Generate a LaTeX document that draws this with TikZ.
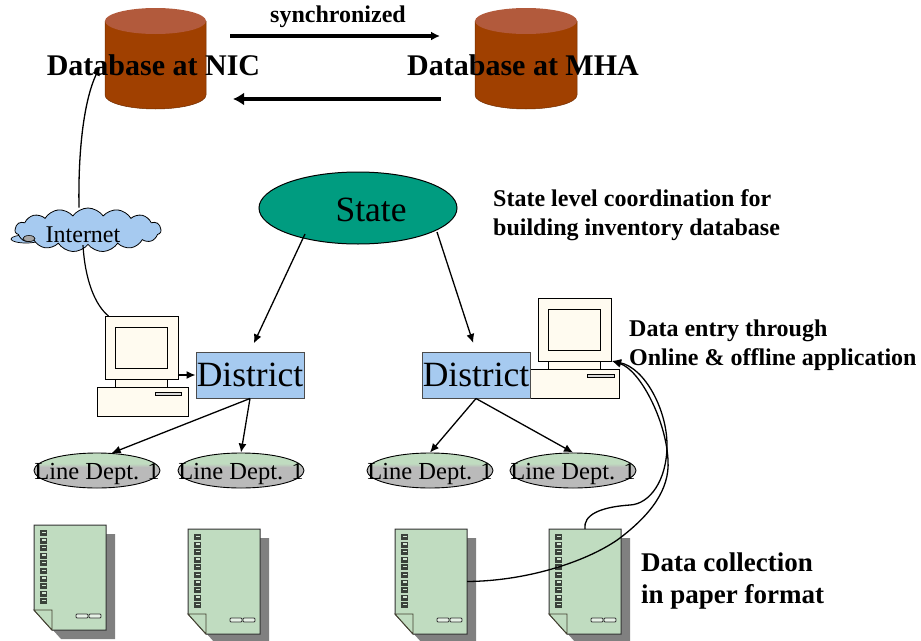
\documentclass[tikz,border=0pt]{standalone}
\usepackage{fontspec}
\setmainfont{Liberation Serif}
\usetikzlibrary{shapes.geometric,shapes.symbols,arrows.meta}
\definecolor{dbbody}{HTML}{A04000}
\definecolor{dbtop}{HTML}{B25A3C}
\definecolor{teal}{HTML}{009C80}
\definecolor{boxblue}{HTML}{A6CAF0}
\definecolor{cream}{HTML}{FFFBF0}
\definecolor{papergreen}{HTML}{C0DCC0}
\definecolor{shadowgray}{HTML}{808080}
\pgfdeclareverticalshading{linedept}{100bp}{color(0bp)=(black!27); color(55bp)=(black!27); color(60bp)=(papergreen); color(100bp)=(papergreen)}
\tikzset{
  x=1pt,y=-1pt,
  outline/.style={draw=black,line width=1pt},
  arrowline/.style={draw=black,line width=1.3pt,-{Latex[length=9pt,width=8pt]}},
  thinline/.style={draw=black,line width=1.2pt},
  linkfwd/.style={draw=black,line width=3.4pt,-{Latex[length=9pt,width=9pt]}},
  linkback/.style={draw=black,line width=4.6pt,-{Latex[length=11pt,width=13pt]}},
  anchorbox/.style={inner sep=0pt,outer sep=0pt,rectangle},
  dbtitle/.style={font=\fontsize{30}{32}\selectfont\bfseries,inner sep=0pt},
  note/.style={font=\fontsize{24}{29.5}\selectfont\bfseries,align=left,inner sep=0pt,anchor=west},
  district/.style={rectangle,draw=black!70,line width=1pt,fill=boxblue,minimum width=108pt,minimum height=46pt,inner sep=0pt,font=\fontsize{35.5}{40}\selectfont},
  depttext/.style={font=\fontsize{24.5}{26}\selectfont,inner sep=0pt,yshift=-3pt},
  dept/.style={ellipse,draw=black,line width=.9pt,shading=linedept,minimum width=126pt,minimum height=35pt,inner sep=0pt,label={[depttext]center:Line Dept. 1}},
}
\newcommand{\dbcyl}[3]{% name, left x, right x
  \fill[dbbody,draw=dbbody!70!black,line width=.5pt] (#2,21) -- (#2,95) arc[x radius={(#3-#2)/2},y radius=14,start angle=180,end angle=0] -- (#3,21) -- cycle;
  \path[fill=dbtop] ({(#2+#3)/2},21) ellipse[x radius={(#3-#2)/2},y radius=13];
  \node[anchorbox,minimum width={#3-#2},minimum height=101pt] (#1) at ({(#2+#3)/2},58.5) {};
}
\newcommand{\comp}[8]{% name, monitor l, monitor top, base l, base r, slot l, slot r, base top
  \node[anchorbox,draw=black,line width=1pt,fill=cream,minimum width=73pt,minimum height=63pt] (#1) at ({#2+36.5},{#3+31.5}) {};
  \draw[outline,fill=cream] ({#2+10},{#3+11}) rectangle ({#2+62},{#3+52});
  \draw[outline,fill=cream] ({#2+10},{#3+63}) rectangle ({#2+62},#8);
  \draw[outline,fill=cream] (#4,#8) rectangle (#5,{#8+29});
  \draw[draw=black,line width=.8pt,fill=black!15] (#6,{#8+5}) rectangle (#7,{#8+8});
}
\newcommand{\paperdoc}[3]{% name, left, top
  \fill[shadowgray] ({#2+9},{#3+9}) -- ({#2+81},{#3+9}) -- ({#2+81},{#3+114}) -- ({#2+27},{#3+114}) -- ({#2+9},{#3+94}) -- cycle;
  \draw[draw=black!80,line width=1pt,fill=papergreen] (#2,#3) -- ({#2+72},#3) -- ({#2+72},{#3+105}) -- ({#2+18},{#3+105}) -- (#2,{#3+85}) -- cycle;
  \draw[draw=black!70!olive,line width=.9pt,fill=papergreen] (#2,{#3+85}) -- ({#2+18},{#3+85}) -- ({#2+18},{#3+105}) -- cycle;
  \foreach \k in {0,...,9} {
    \fill[black!70!papergreen] ({#2+6},{#3+5+\k*7.6}) rectangle ({#2+13},{#3+11+\k*7.6});
    \fill[papergreen!70!white] ({#2+7.5},{#3+6.5+\k*7.6}) rectangle ({#2+11.5},{#3+8+\k*7.6});
  }
  \draw[draw=black!80,line width=.8pt,fill=papergreen!40!white,rounded corners=1pt] ({#2+42},{#3+89}) rectangle ({#2+54},{#3+93});
  \draw[draw=black!80,line width=.8pt,fill=papergreen!40!white,rounded corners=1pt] ({#2+55},{#3+89}) rectangle ({#2+67},{#3+93});
  \node[anchorbox,minimum width=72pt,minimum height=105pt] (#1) at ({#2+36},{#3+52.5}) {};
}
\begin{document}
\begin{tikzpicture}
\useasboundingbox (0,0) rectangle (921,640);

% databases
\dbcyl{nic}{105}{206}
\dbcyl{mha}{475}{577}
\node[dbtitle] (nict) at (153.5,65.5) {Database at NIC};
\node[dbtitle] (mhat) at (523,65.5) {Database at MHA};
\node[font=\fontsize{24}{26}\selectfont\bfseries,inner sep=0pt] (sync) at (338,17) {synchronized};
\path (nic.east) ++(24,-22.5) coordinate (syncstart);
\path (mha.west) ++(-35,-22.5) coordinate (syncend);
\draw[linkfwd] (syncstart) -- (syncend);
\path (nic.east) ++(27,40.5) coordinate (backend);
\path (mha.west) ++(-34,40.5) coordinate (backstart);
\draw[linkback] (backstart) -- (backend);

% state
\node[ellipse,draw=black,line width=1pt,fill=teal,minimum width=198pt,minimum height=72pt,inner sep=0pt] (state) at (358,208) {};
\node[font=\fontsize{35.5}{40}\selectfont,inner sep=0pt] (statetext) at (371,210) {State};
\node[note] (statenote) at (493,215) {State level coordination for\\building inventory database};

% computers
\comp{pc1}{105}{316}{97}{188}{155}{181}{387}
\comp{pc2}{538}{298}{530}{619}{587}{614}{369}

% districts
\node[district] (d1) at (250,375) {District};
\node[district] (d2) at (476,375) {District};

% line departments
\node[dept] (l1) at (97,470.5) {};
\node[dept] (l2) at (241,470.5) {};
\node[dept] (l3) at (430,470.5) {};
\node[dept] (l4) at (573,470.5) {};

% cloud
\node[ellipse,draw=black,line width=.7pt,fill=boxblue,minimum width=30pt,minimum height=8pt,inner sep=0pt] (puff) at (26,239) {};
\node[cloud,cloud puffs=15,cloud puff arc=110,aspect=3.6,draw=black,line width=.8pt,fill=boxblue,minimum width=146pt,minimum height=44pt,inner sep=0pt] (cloudnet) at (88,230) {};
\draw[line width=.6pt,fill=black!35] (29,238.5) ellipse[x radius=6,y radius=3];
\node[font=\fontsize{24}{26}\selectfont,inner sep=0pt] (nettext) at (83,235) {Internet};

% papers
\paperdoc{p1}{34}{525}
\paperdoc{p2}{188}{529}
\paperdoc{p3}{395}{529}
\paperdoc{p4}{549}{529}

\node[note] (entry) at (629,345) {Data entry through\\Online \& offline application};
\node[note,font=\fontsize{27}{32}\selectfont\bfseries] (collect) at (641,581) {Data collection\\in paper format};

% connectors
\path (state.center) ++(-53,26) coordinate (stateleft);
\path (state.center) ++(79,24) coordinate (stateright);
\draw[arrowline,shorten >=9pt] (stateleft) -- (d1.north);
\draw[arrowline,shorten >=9pt] (stateright) -- (d2.north);
\draw[arrowline] (pc1.east |- d1.west) -- (d1.west);
\draw[arrowline] (d1.south) -- (l1.50);
\draw[arrowline] (d1.south) -- (l2.north);
\draw[arrowline] (d2.south) -- (l3.north);
\draw[arrowline] (d2.south) -- (l4.north);
\path (cloudnet.north) ++(-9,0) coordinate (cloudtop);
\path (cloudnet.south) ++(-5,0) coordinate (cloudbottom);
\path (nic.west) ++(-5,8) coordinate (nicin);
\path (pc1.north) ++(-33,0) coordinate (pc1top);
\path (pc2.south east) ++(1,0) coordinate (pc2in);
\draw[arrowline] (cloudtop) .. controls (78,150) and (84,100) .. (nicin);
\draw[thinline] (cloudbottom) .. controls (85,280) and (95,305) .. (pc1top);
\draw[arrowline] (p3.east) .. controls (530,581) and (590,560) .. (620,538) .. controls (650,515) and (670,490) .. (668,460) .. controls (666,420) and (640,370) .. (pc2in);
\draw[arrowline] (p4.north) .. controls (583,515) and (600,507) .. (630,505) .. controls (650,504) and (667,480) .. (667,445) .. controls (667,410) and (645,368) .. (pc2in);
\end{tikzpicture}
\end{document}
